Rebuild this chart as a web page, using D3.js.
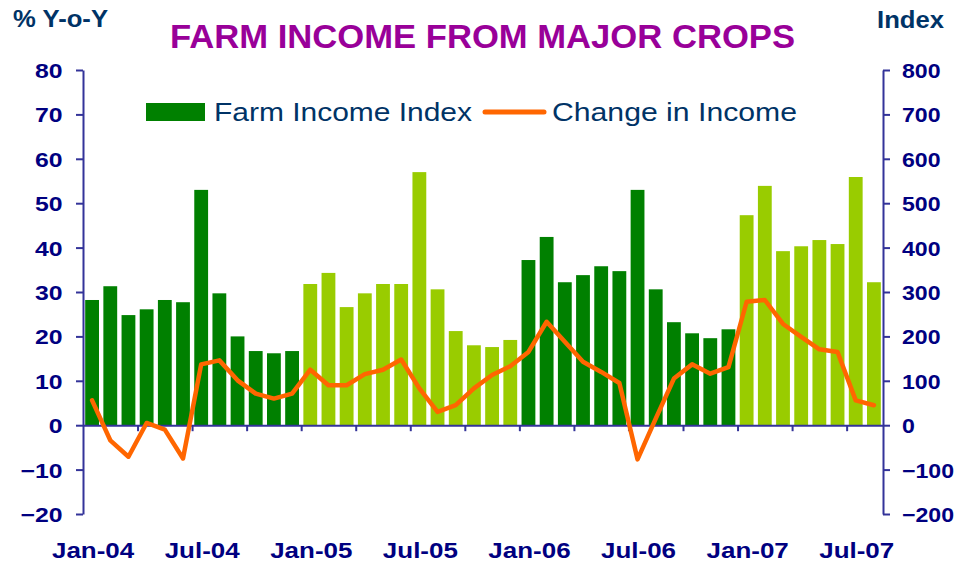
<!DOCTYPE html>
<html>
<head>
<meta charset="utf-8">
<script src="https://cdn.jsdelivr.net/npm/d3@7"></script>
<style>
  html, body { margin: 0; padding: 0; background: #fff; }
  svg { display: block; font-family: "Liberation Sans", Arial, sans-serif; }
</style>
</head>
<body>
<svg id="chart" width="955" height="563"></svg>
<script>
// ---------------- DATA ----------------
const months = [
  "Jan-04","Feb-04","Mar-04","Apr-04","May-04","Jun-04","Jul-04","Aug-04","Sep-04","Oct-04","Nov-04","Dec-04",
  "Jan-05","Feb-05","Mar-05","Apr-05","May-05","Jun-05","Jul-05","Aug-05","Sep-05","Oct-05","Nov-05","Dec-05",
  "Jan-06","Feb-06","Mar-06","Apr-06","May-06","Jun-06","Jul-06","Aug-06","Sep-06","Oct-06","Nov-06","Dec-06",
  "Jan-07","Feb-07","Mar-07","Apr-07","May-07","Jun-07","Jul-07","Aug-07"
];
// Farm Income Index (right axis)
const incomeIndex = [
  282, 313, 248, 261, 282, 277, 530, 297, 200, 167, 162, 167,
  318, 343, 266, 297, 318, 318, 570, 306, 212, 180, 176, 192,
  372, 424, 322, 338, 358, 347, 530, 306, 232, 207, 196, 216,
  473, 539, 392, 403, 417, 408, 559, 322
];
// Change in Income, % Y-o-Y (left axis)
const incomeChange = [
  5.6, -3.4, -7.1, 0.5, -1.0, -7.5, 13.7, 14.6, 10.1, 7.1, 6.0, 7.1,
  12.5, 9.0, 9.0, 11.5, 12.5, 14.8, 8.3, 3.0, 4.5, 8.3, 11.3, 13.3,
  16.5, 23.3, 18.8, 14.3, 12.0, 9.5, -7.7, 1.5, 10.5, 13.7, 11.6, 13.1,
  27.8, 28.2, 22.8, 19.9, 17.1, 16.5, 5.6, 4.5
];
const xTickLabels = ["Jan-04","Jul-04","Jan-05","Jul-05","Jan-06","Jul-06","Jan-07","Jul-07"];
const leftTicks = [-20,-10,0,10,20,30,40,50,60,70,80];
const rightTicks = [-200,-100,0,100,200,300,400,500,600,700,800];
const seriesNames = ["Farm Income Index", "Change in Income"];
const titleText = "FARM INCOME FROM MAJOR CROPS";

// ---------------- STYLE ----------------
const C = {
  dark: "#008000", light: "#99CC00", line: "#FF6600",
  axis: "#333399", tick: "#000080", title: "#990099", label: "#003366"
};
const yearColor = { "04": C.dark, "05": C.light, "06": C.dark, "07": C.light };

const L = 83, R = 883, T = 70, B = 514;
const SX = 1.18;  // horizontal stretch of tick labels
const SXR = 1.1;  // right labels slightly narrower so they fit the frame

const svg = d3.select("#chart");

const x = d3.scaleBand().domain(months).range([L, R]).paddingInner(0.24).paddingOuter(0.12);
const xLin = d3.scaleLinear().domain([0, months.length]).range([L, R]);
const yL = d3.scaleLinear().domain([-20, 80]).range([B, T]);
const yR = d3.scaleLinear().domain([-200, 800]).range([B, T]);

// bars
svg.append("g").selectAll("rect").data(months).join("rect")
  .attr("x", d => x(d))
  .attr("width", x.bandwidth())
  .attr("y", (d, i) => yR(incomeIndex[i]))
  .attr("height", (d, i) => yR(0) - yR(incomeIndex[i]))
  .attr("fill", d => yearColor[d.slice(-2)]);

// left axis
const gL = svg.append("g").attr("transform", `translate(${L},0)`)
  .call(d3.axisLeft(yL).tickValues(leftTicks).tickSize(7).tickSizeOuter(0));
// right axis
const gR = svg.append("g").attr("transform", `translate(${R},0)`)
  .call(d3.axisRight(yR).tickValues(rightTicks).tickSize(7).tickSizeOuter(0));
// bottom axis (ticks every 3 months at band boundaries)
const gB = svg.append("g").attr("transform", `translate(0,${yL(0)})`)
  .call(d3.axisBottom(xLin).tickValues(d3.range(3, months.length, 3)).tickSize(6).tickSizeOuter(0).tickFormat(""));

[gL, gR, gB].forEach(g => {
  g.select(".domain").attr("stroke", C.axis).attr("stroke-width", 2);
  g.selectAll(".tick line").attr("stroke", C.axis).attr("stroke-width", 2);
});

gL.selectAll(".tick text")
  .attr("fill", C.tick).attr("font-size", 21).attr("font-weight", "bold")
  .attr("font-family", "Liberation Sans, Arial, sans-serif")
  .attr("transform", `scale(${SX},1)`).attr("x", -20.5 / SX).attr("dy", "0.36em");
gR.selectAll(".tick text")
  .attr("fill", C.tick).attr("font-size", 21).attr("font-weight", "bold")
  .attr("font-family", "Liberation Sans, Arial, sans-serif")
  .attr("transform", `scale(${SXR},1)`).attr("x", 19 / SXR).attr("dy", "0.36em");

// x labels
svg.append("g").selectAll("text").data(xTickLabels).join("text")
  .attr("transform", d => `translate(${x(d) + x.bandwidth() / 2 + 1},558) scale(${SX},1)`)
  .attr("text-anchor", "middle")
  .attr("font-size", 22).attr("font-weight", "bold").attr("fill", C.tick)
  .text(d => d);

// line
const line = d3.line()
  .x((d, i) => x(months[i]) + x.bandwidth() / 2)
  .y(d => yL(d));
svg.append("path").datum(incomeChange)
  .attr("d", line).attr("fill", "none")
  .attr("stroke", C.line).attr("stroke-width", 4.5)
  .attr("stroke-linejoin", "round").attr("stroke-linecap", "round");

// title
svg.append("text").attr("x", 170).attr("y", 48)
  .attr("font-size", 33).attr("font-weight", "bold").attr("fill", C.title)
  .attr("textLength", 625).attr("lengthAdjust", "spacingAndGlyphs")
  .text(titleText);

// axis titles
svg.append("text").attr("x", 13).attr("y", 27)
  .attr("font-size", 24).attr("font-weight", "bold").attr("fill", C.label)
  .attr("textLength", 95).attr("lengthAdjust", "spacingAndGlyphs")
  .text("% Y-o-Y");
svg.append("text").attr("x", 877).attr("y", 28)
  .attr("font-size", 24).attr("font-weight", "bold").attr("fill", C.label)
  .attr("textLength", 67).attr("lengthAdjust", "spacingAndGlyphs")
  .text("Index");

// legend
const lg = svg.append("g");
lg.append("rect").attr("x", 146).attr("y", 103).attr("width", 59).attr("height", 18).attr("fill", C.dark);
lg.append("text").attr("x", 214).attr("y", 121)
  .attr("font-size", 26).attr("fill", C.label)
  .attr("textLength", 258).attr("lengthAdjust", "spacingAndGlyphs")
  .text(seriesNames[0]);
lg.append("line").attr("x1", 485).attr("x2", 544).attr("y1", 112).attr("y2", 112)
  .attr("stroke", C.line).attr("stroke-width", 5).attr("stroke-linecap", "round");
lg.append("text").attr("x", 552).attr("y", 121)
  .attr("font-size", 26).attr("fill", C.label)
  .attr("textLength", 245).attr("lengthAdjust", "spacingAndGlyphs")
  .text(seriesNames[1]);
</script>
</body>
</html>
